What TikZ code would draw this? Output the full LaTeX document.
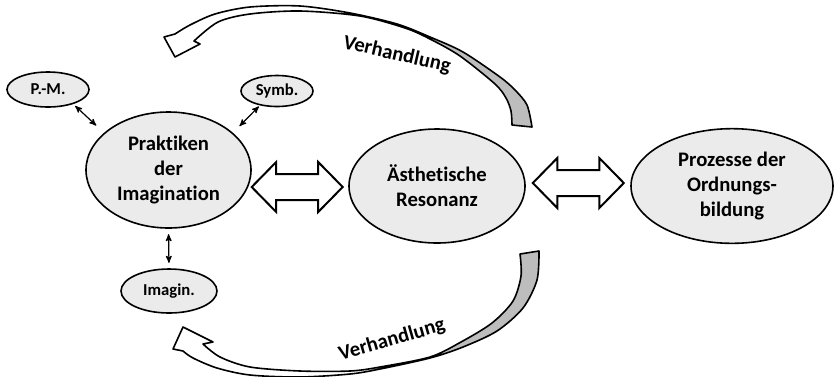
\documentclass[tikz,border=0pt]{standalone}
\usepackage{fontspec}
\setmainfont{Carlito}[Ligatures=NoCommon]
\usetikzlibrary{arrows}
\usetikzlibrary{shapes.geometric}
\definecolor{ellgray}{HTML}{EBEBEB}
\definecolor{backgray}{HTML}{BDBDBD}
\tikzstyle{bigell}=[ellipse,draw=black,fill=ellgray,line width=1.2pt,inner sep=0pt,align=center,font=\fontsize{15.5}{18.8}\selectfont\bfseries]
\tikzstyle{smallell}=[ellipse,draw=black,fill=ellgray,line width=1.2pt,inner sep=0pt,font=\fontsize{12.5}{15}\selectfont\bfseries]
\tikzstyle{link}=[<->,>=stealth',draw=black,line width=0.9pt]
\tikzstyle{blockarr}=[draw=black,fill=white,line width=1.5pt,line join=miter]
\tikzstyle{ribbon}=[draw=black,line width=1.2pt,line join=round]
\tikzstyle{lbl}=[font=\fontsize{15.5}{18.8}\selectfont\bfseries]
% curved ribbon arrows, drawn in pixel units
\newcommand{\topband}{(164,37) -- (175,57) -- (200,44) -- (194,41)
  -- plot[smooth] coordinates {(194,41) (218,22) (250,14) (300,11) (360,16) (405,28) (430,39) (460,56) (495,84) (506,98) (511,111) (512,125)}
  -- plot[smooth] coordinates {(532,127) (527,105) (515,90) (500,77) (463,52) (430,37) (397,24) (350,13) (300,6) (250,7) (215,14) (190,25) (175,34)}
  -- cycle}
\newcommand{\bottomband}{(173,349) -- (183,327) -- (213,342) -- (203,344)
  -- plot[smooth] coordinates {(203,344) (220,357) (250,367) (300,371) (350,371) (380,367) (430,357) (461,342) (492,323) (513,301) (521,276) (520,254)}
  -- plot[smooth] coordinates {(539,251) (537,280) (523,308) (497,331) (463,347) (430,358) (380,369) (350,374) (300,377) (250,375) (217,368) (193,358) (183,351)}
  -- cycle}

\begin{document}
\begin{tikzpicture}[x=0.75pt,y=-0.75pt]
  \useasboundingbox (0,0) rectangle (834,376);
  % upper ribbon
  \fill[white] \topband;
  \begin{scope}
    \clip (405,0) rectangle (540,140);
    \fill[backgray] \topband;
  \end{scope}
  \draw[ribbon] \topband;
  % lower ribbon
  \fill[white] \bottomband;
  \begin{scope}
    \clip (425,240) rectangle (545,380);
    \fill[backgray] \bottomband;
  \end{scope}
  \draw[ribbon] \bottomband;
  \node[lbl,rotate=-13] (vh1) at (397,55) {Verhandlung};
  \node[lbl,rotate=16] (vh2) at (392,340) {Verhandlung};

  \node[bigell,minimum width=123.75pt,minimum height=87pt] (prak) at (168.5,170) {Praktiken\\der\\Imagination};
  \node[bigell,minimum width=132pt,minimum height=85.5pt] (aest) at (437,186) {Ästhetische\\Resonanz};
  \node[bigell,minimum width=151.5pt,minimum height=86pt] (proz) at (732,186) {Prozesse der\\Ordnungs-\\bildung};
  \node[smallell,minimum width=61.5pt,minimum height=26.25pt] (pm) at (48,89.5) {P.-M.};
  \node[smallell,minimum width=54pt,minimum height=23.25pt] (symb) at (277,91) {Symb.};
  \node[smallell,minimum width=72pt,minimum height=33pt] (imag) at (169,291) {Imagin.};

  \draw[link,shorten <=2pt,shorten >=8pt] (pm.-30) -- (prak.150);
  \draw[link,shorten <=1pt,shorten >=7pt] (symb.220) -- (prak.30);
  \draw[link,shorten <=4pt,shorten >=4pt] (prak.south) -- (imag.north);

  % hollow double arrows
  \path (aest.west) ++(-51,1) coordinate (m1);
  \path (aest.east) ++(52.5,-3) coordinate (m2);
  \foreach \m in {m1,m2}
    \draw[blockarr,shift={(\m)}] (-45.5,0) -- (-21,-25) -- (-21,-13) -- (21,-13) -- (21,-25)
      -- (45.5,0) -- (21,25) -- (21,13) -- (-21,13) -- (-21,25) -- cycle;
\end{tikzpicture}
\end{document}
